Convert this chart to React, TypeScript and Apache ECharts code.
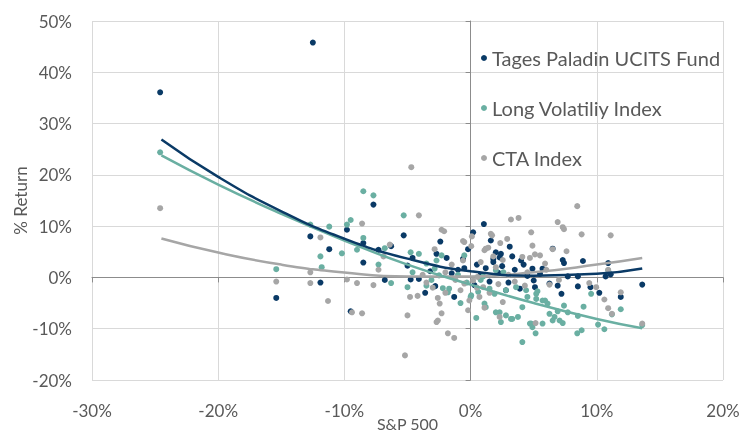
import React, { useEffect, useRef } from "react";
import * as echarts from "echarts";

// S&P 500 monthly return (%) vs fund/index return (%)
const tagesData: [number, number][] = [
  [-24.6, 36.1], [-12.5, 45.8], [-15.4, -4.0], [-12.7, 8.0], [-11.9, -1.0], [-11.2, 5.5],
  [-9.8, 9.3], [-8.5, 6.7], [-8.5, 2.9], [-9.5, -6.6], [-7.7, 14.2], [-7.3, 5.4],
  [-6.3, 6.1], [-5.3, 8.2], [-4.6, 3.8], [-5.0, 2.3], [-4.75, -0.4], [-4.1, -0.3],
  [-3.6, -3.0], [-2.4, 7.0], [-2.7, 4.6], [-1.9, 3.8], [-2.8, -1.7], [-1.3, -3.8],
  [-0.6, 3.6], [-1.0, 1.5], [0.2, 8.8], [1.05, 10.4], [3.1, 6.0], [2.0, 4.9],
  [2.4, 4.6], [1.8, 3.6], [4.0, 3.3], [5.7, 1.7], [7.3, 3.4], [7.4, 2.8],
  [8.9, 3.2], [10.9, 2.8], [11.1, 0.6], [10.7, 0.2], [8.5, 0.2], [7.7, 0.2],
  [8.5, -1.75], [9.5, -1.9], [10.2, -3.0], [7.2, -3.2], [6.9, -1.6], [13.6, -1.4],
  [11.9, -3.8], [3.9, -2.2], [2.8, -2.5], [6.5, 5.6], [2.3, 3.9], [1.8, 3.0],
  [4.9, 1.7], [5.5, 0.7], [6.25, -1.2], [5.1, -1.9], [0.5, 2.5], [1.2, 1.8],
  [2.5, 2.2], [3.5, 1.5], [0.8, 0.5], [4.5, 0.3], [-0.5, 1.8], [1.5, -0.8],
  [3.0, -1.0], [2.2, 0.9], [0.3, -1.5], [-1.5, 0.8], [-3.2, 1.2], [4.2, 2.5],
  [3.3, 4.1], [-0.2, 5.5], [-6.8, -0.5], [1.6, 7.2], [5.0, -0.6],
];

const longVolData: [number, number][] = [
  [-24.6, 24.4], [-15.4, 1.6], [-12.7, 10.3], [-11.2, 9.9], [-11.9, 4.1], [-11.8, 2.0],
  [-10.2, 4.7], [-9.8, 10.3], [-9.5, 11.2], [-8.5, 16.8], [-7.7, 16.0], [-8.5, 7.7],
  [-9.0, 5.4], [-7.3, 2.5], [-6.3, -1.1], [-6.8, 5.7], [-5.3, 12.1], [-4.75, 4.9],
  [-4.1, 4.6], [-3.5, 2.7], [-4.6, 1.0], [-5.0, -1.9], [-3.5, -1.6], [-2.3, 4.3],
  [-2.7, 3.3], [-2.85, 1.7], [-1.8, -2.9], [0.0, -3.8], [0.45, -7.9], [-0.5, 4.3],
  [-2.2, -2.1], [-1.7, -2.2], [1.1, -5.1], [0.05, -3.5], [1.2, -5.8], [2.0, -6.8],
  [2.4, -8.7], [3.2, -8.1], [3.75, -7.7], [4.1, -5.8], [4.5, -3.8], [5.3, -2.7],
  [5.9, -4.5], [4.1, -12.6], [4.8, -9.0], [5.15, -10.9], [5.7, -9.0], [6.5, -8.4],
  [6.25, -7.1], [6.9, -6.6], [7.4, -5.5], [7.7, -6.8], [7.3, -8.9], [8.45, -10.9],
  [8.8, -10.3], [8.5, -7.5], [8.95, -5.7], [9.55, -3.2], [10.1, -9.2], [10.6, -10.1],
  [10.9, 1.4], [11.9, -6.2], [11.2, -7.2], [13.6, -9.3], [1.5, -2.2], [1.9, -3.2],
  [2.8, -2.5], [3.6, -1.9], [2.3, -6.8], [2.8, -7.4], [3.3, -8.1], [4.7, -9.0],
  [4.9, -9.7], [6.65, -7.7], [7.05, -8.4], [5.2, -4.2], [5.7, -4.5], [6.1, -5.1],
  [4.4, -2.5], [5.2, -3.2], [2.0, 1.4], [2.6, 1.0], [-1.0, 0.5], [-0.3, -1.0],
  [0.8, -0.5], [-2.5, 0.4], [-3.1, -0.5], [0.6, -2.8], [-0.8, -5.0], [1.0, 0.2],
];

const ctaData: [number, number][] = [
  [-24.6, 13.5], [-15.4, -0.8], [-12.7, 1.0], [-12.7, -1.1], [-11.9, 7.8], [-11.3, -4.6],
  [-8.6, 10.5], [-7.3, 1.5], [-9.8, -0.4], [-9.0, -1.1], [-7.7, -1.5], [-9.4, -6.8],
  [-8.6, -7.0], [-6.4, 6.4], [-6.9, 4.1], [-4.7, 21.5], [-4.1, 12.1], [-4.8, -3.8],
  [-4.2, -3.6], [-5.0, -7.4], [-5.2, -15.2], [-2.3, 9.3], [-2.1, 9.0], [-2.85, 5.5],
  [-2.6, -4.0], [-2.45, -5.1], [-2.7, -8.7], [-2.6, -8.4], [-1.8, -10.9], [-1.3, -11.8],
  [-2.3, -7.0], [-0.6, 7.1], [0.05, 6.1], [1.7, 8.2], [-0.2, -6.4], [8.45, 13.9],
  [3.2, 11.3], [3.8, 11.6], [6.9, 10.8], [7.3, 9.8], [7.4, 9.4], [8.8, 8.4],
  [11.1, 8.2], [4.8, 8.8], [0.1, 8.0], [-0.5, 6.9], [2.35, 6.7], [2.9, 7.5],
  [4.9, 6.2], [6.5, 5.5], [7.6, 5.1], [1.1, 5.3], [1.4, 5.8], [1.8, 4.1],
  [2.55, 3.4], [4.1, 4.0], [4.7, 3.8], [5.1, 4.5], [5.5, 4.3], [5.9, 2.7],
  [10.9, 1.5], [11.9, -2.9], [10.6, -4.3], [10.9, -6.0], [11.2, -7.1], [9.95, -1.9],
  [9.4, -1.1], [13.6, -9.0], [6.25, -1.4], [4.3, -1.6], [2.3, -7.7], [-0.1, -4.5],
  [1.1, -5.9], [2.55, -4.8], [5.15, -8.9], [-0.6, 3.3], [0.7, -3.8], [1.0, -1.9],
  [1.2, 5.6], [1.6, 8.5], [0.2, -0.6], [0.55, 0.1], [-0.5, -1.2], [-2.0, 1.0],
  [-1.2, -0.5], [-3.0, -2.0], [-1.5, 2.5], [-3.8, 0.5], [3.0, 0.5], [3.5, -0.8],
  [2.0, 2.0], [0.8, 3.0], [4.5, 1.0], [1.5, -3.0], [-0.8, -2.5], [0.5, -2.0],
  [-2.0, -3.0], [-3.5, -1.0], [2.2, -1.3], [6.0, 1.5], [7.0, -0.5],
];

// Polynomial (order 2) trend lines
const trendX = [-24.5, -20, -15, -10, -5, 0, 5, 10, 13.6];
const tagesTrend = [26.9, 19.6, 12.9, 7.55, 3.66, 1.2, 0.35, 0.7, 1.75];
const longVolTrend = [23.8, 18.1, 12.4, 7.2, 2.5, -1.4, -5.0, -8.1, -9.9];
const ctaTrend = [7.6, 4.85, 2.5, 0.95, 0.2, 0.2, 1.0, 2.5, 3.8];

const xTicks = { min: -30, max: 20, interval: 10 };
const yTicks = { min: -20, max: 50, interval: 10 };

const NAVY = "#0a3a66";
const TEAL = "#6aafa2";
const GRAY = "#a6a6a6";
const TXT = "#595959";
const FONT = "Lato";

const zip = (xs: number[], ys: number[]) => xs.map((x, i) => [x, ys[i]]);

export default function App() {
  const ref = useRef<HTMLDivElement>(null);
  useEffect(() => {
    if (!ref.current) return;
    const chart = echarts.init(ref.current, undefined, { renderer: "svg" });
    const scatter = (name: string, data: [number, number][], color: string) => ({
      name,
      type: "scatter",
      xAxisIndex: 0,
      yAxisIndex: 0,
      data,
      symbolSize: 6,
      itemStyle: { color, opacity: 1 },
      z: 2,
    });
    const trend = (name: string, ys: number[], color: string, z: number) => ({
      name,
      type: "line",
      xAxisIndex: 0,
      yAxisIndex: 0,
      data: zip(trendX, ys),
      smooth: true,
      showSymbol: false,
      symbol: "none",
      lineStyle: { color, width: 2.5 },
      z,
    });
    chart.setOption({
      animation: false,
      textStyle: { fontFamily: FONT },
      grid: {
        left: 92,
        right: 20,
        top: 21,
        bottom: 53,
        containLabel: false,
        outerBoundsMode: "none",
      },
      legend: {
        data: [
          { name: "Tages Paladin UCITS Fund", itemStyle: { color: NAVY } },
          { name: "Long Volatiliy Index", itemStyle: { color: TEAL } },
          { name: "CTA Index", itemStyle: { color: GRAY } },
        ],
        orient: "vertical",
        left: 476,
        top: 43,
        icon: "circle",
        itemWidth: 6,
        itemHeight: 6,
        itemGap: 30,
        textStyle: { color: TXT, fontSize: 20, fontFamily: FONT, padding: [0, 0, 0, 0] },
      },
      xAxis: [
        {
          type: "value",
          ...xTicks,
          position: "bottom",
          axisLine: { show: false, onZero: false },
          axisTick: { show: false },
          axisLabel: { formatter: "{value}%", color: TXT, fontSize: 17, margin: 22, fontFamily: FONT },
          splitLine: { show: true, lineStyle: { color: "#d9d9d9", width: 1 } },
          name: "S&P 500",
          nameLocation: "middle",
          nameGap: 35,
          nameMoveOverlap: false,
          nameTextStyle: { color: TXT, fontSize: 16, lineHeight: 16, fontFamily: FONT },
        },
        {
          type: "value",
          ...xTicks,
          position: "bottom",
          axisLine: { show: true, onZero: true, lineStyle: { color: "#8c8c8c", width: 1 } },
          axisTick: { show: true, length: 5, lineStyle: { color: "#8c8c8c" } },
          axisLabel: { show: false },
          splitLine: { show: false },
        },
      ],
      yAxis: [
        {
          type: "value",
          ...yTicks,
          position: "left",
          axisLine: { show: false, onZero: false },
          axisTick: { show: false },
          axisLabel: { formatter: "{value}%", color: TXT, fontSize: 17, margin: 20, fontFamily: FONT },
          splitLine: { show: true, lineStyle: { color: "#d9d9d9", width: 1 } },
          name: "% Return",
          nameLocation: "middle",
          nameGap: 63,
          nameMoveOverlap: false,
          nameTextStyle: { color: TXT, fontSize: 17, fontFamily: FONT },
        },
        {
          type: "value",
          ...yTicks,
          position: "left",
          axisLine: { show: true, onZero: true, lineStyle: { color: "#8c8c8c", width: 1 } },
          axisTick: { show: true, length: 5, lineStyle: { color: "#8c8c8c" } },
          axisLabel: { show: false },
          splitLine: { show: false },
        },
      ],
      series: [
        scatter("Tages Paladin UCITS Fund", tagesData, NAVY),
        scatter("Long Volatiliy Index", longVolData, TEAL),
        scatter("CTA Index", ctaData, GRAY),
        trend("CTA trend", ctaTrend, GRAY, 3),
        trend("Long Vol trend", longVolTrend, TEAL, 4),
        trend("Tages trend", tagesTrend, NAVY, 5),
      ],
    });
    return () => chart.dispose();
  }, []);
  return (
    <div
      ref={ref}
      style={{ position: "fixed", left: 0, top: 0, width: 743, height: 433 }}
    />
  );
}
